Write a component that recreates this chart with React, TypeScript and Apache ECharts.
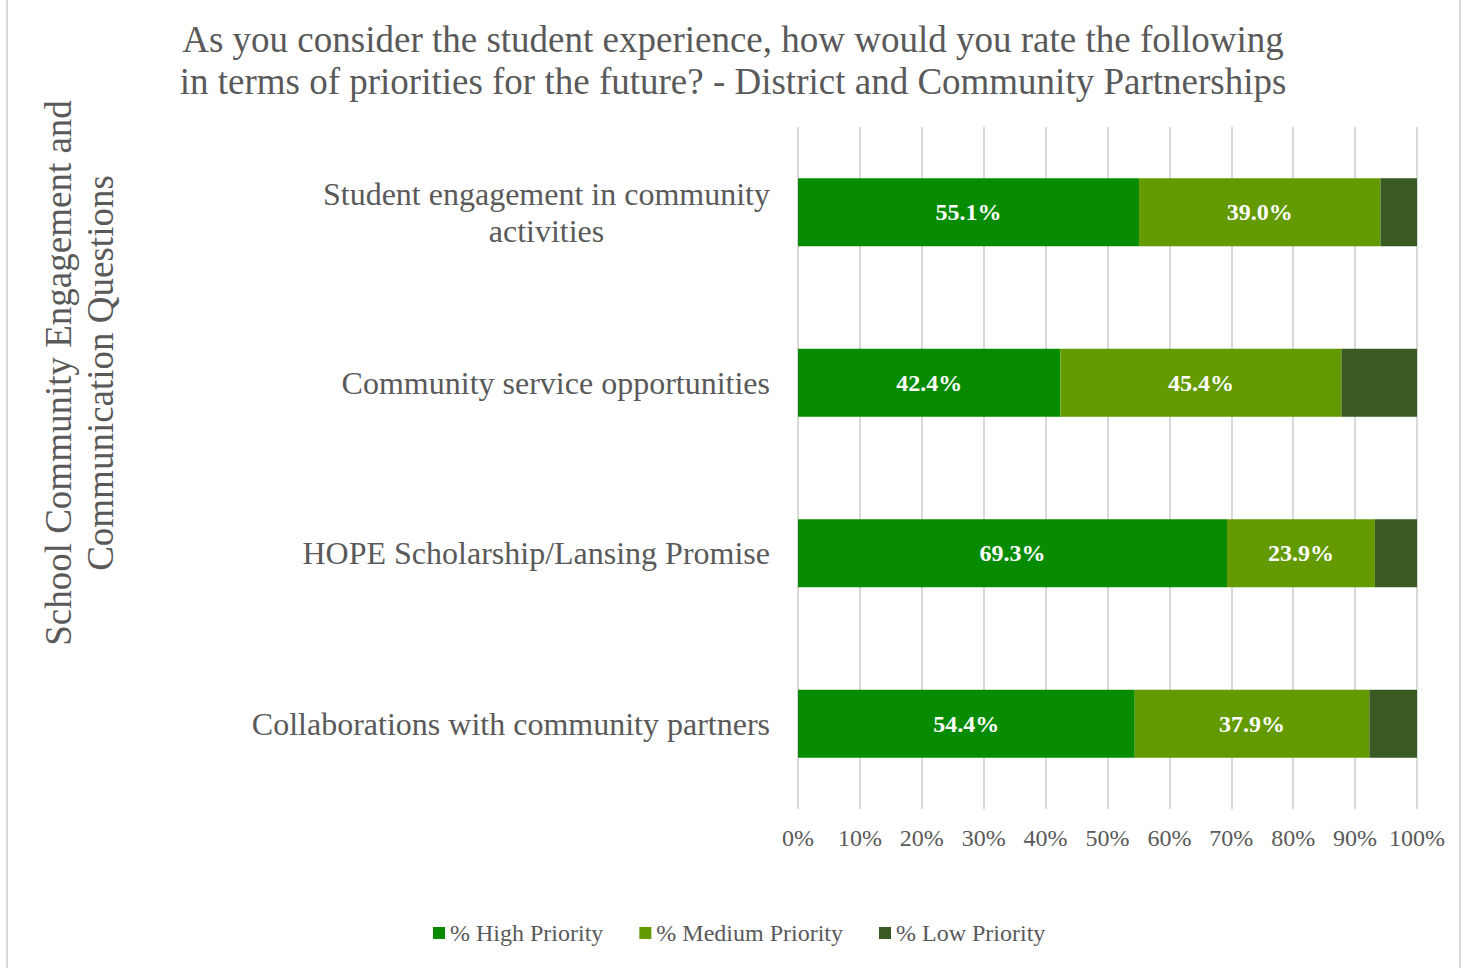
import React, { useEffect, useRef } from "react";
import * as echarts from "echarts";

const categories = [
  "Student engagement in community\nactivities",
  "Community service opportunities",
  "HOPE Scholarship/Lansing Promise",
  "Collaborations with community partners",
];
const highPriority = [55.1, 42.4, 69.3, 54.4];
const mediumPriority = [39.0, 45.4, 23.9, 37.9];
const lowPriority = [5.9, 12.2, 6.8, 7.7];
const seriesNames = ["% High Priority", "% Medium Priority", "% Low Priority"];
const colors = ["#078b00", "#639a00", "#3a5a24"];
const titleText =
  "As you consider the student experience, how would you rate the following\nin terms of priorities for the future? - District and Community Partnerships";
const yAxisTitle = "School Community Engagement and\nCommunication Questions";

const FONT = "'Liberation Serif', 'Times New Roman', serif";
const GRAY = "#595959";

export default function App() {
  const ref = useRef<HTMLDivElement>(null);
  useEffect(() => {
    if (!ref.current) return;
    const chart = echarts.init(ref.current, undefined, { renderer: "svg" });
    const label = {
      show: true,
      position: "inside",
      color: "#ffffff",
      fontFamily: FONT,
      fontWeight: "bold",
      fontSize: 24,
      formatter: (p: any) => p.value.toFixed(1) + "%",
    };
    const data = [highPriority, mediumPriority, lowPriority];
    chart.setOption({
      animation: false,
      backgroundColor: "#ffffff",
      title: {
        text: titleText,
        left: "center",
        top: 13,
        textStyle: {
          fontFamily: FONT,
          fontWeight: "normal",
          fontSize: 37,
          lineHeight: 42,
          color: GRAY,
        },
      },
      graphic: [
        { type: "line", shape: { x1: 7, y1: 0, x2: 7, y2: 968 }, style: { stroke: "#d9d9d9", lineWidth: 2 } },
        { type: "line", shape: { x1: 1460, y1: 0, x2: 1460, y2: 968 }, style: { stroke: "#d9d9d9", lineWidth: 2 } },
        {
          type: "text",
          x: 79,
          y: 373,
          rotation: Math.PI / 2,
          style: {
            text: yAxisTitle,
            fontFamily: FONT,
            fontSize: 37,
            lineHeight: 42,
            fill: GRAY,
            align: "center",
            verticalAlign: "middle",
          },
        },
      ],
      legend: {
        left: 428,
        top: 916,
        itemWidth: 12,
        itemHeight: 12,
        itemGap: 36,
        icon: "rect",
        textStyle: { fontFamily: FONT, fontSize: 24, color: GRAY },
        data: seriesNames,
      },
      grid: { left: 798, right: 49, top: 127, bottom: 159 },
      xAxis: {
        type: "value",
        min: 0,
        max: 100,
        interval: 10,
        axisLine: { show: false },
        axisTick: { show: false },
        splitLine: { show: true, lineStyle: { color: "#d9d9d9", width: 2 } },
        axisLabel: {
          formatter: "{value}%",
          fontFamily: FONT,
          fontSize: 24,
          color: GRAY,
          margin: 17,
        },
      },
      yAxis: {
        type: "category",
        inverse: true,
        data: categories,
        axisLine: { show: false },
        axisTick: { show: false },
        axisLabel: {
          margin: 28,
          formatter: (v: string) =>
            v
              .split("\n")
              .map((l) => "{c|" + l + "}")
              .join("\n"),
          rich: {
            c: {
              fontFamily: FONT,
              fontSize: 32,
              lineHeight: 37,
              color: GRAY,
              align: "center",
            },
          },
        },
      },
      series: seriesNames.map((name, i) => ({
        name,
        type: "bar",
        stack: "total",
        barWidth: 68,
        data: data[i],
        itemStyle: { color: colors[i] },
        label: i < 2 ? label : { show: false },
      })),
    });
    return () => chart.dispose();
  }, []);
  return (
    <div
      ref={ref}
      style={{ position: "fixed", left: 0, top: 0, width: 1466, height: 968 }}
    />
  );
}
